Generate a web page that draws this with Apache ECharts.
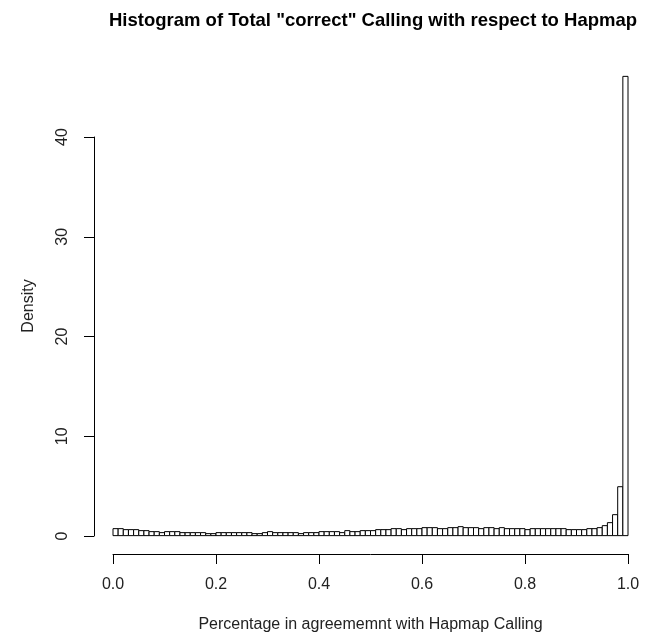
<!DOCTYPE html>
<html>
<head>
<meta charset="utf-8">
<script src="https://cdn.jsdelivr.net/npm/echarts@6/dist/echarts.min.js"></script>
<style>
html,body{margin:0;padding:0;background:#fff;}
#chart{width:648px;height:633px;}
</style>
</head>
<body>
<div id="chart"></div>
<script>
// Histogram bin width (breaks every 0.01 from 0 to 1)
const binWidth = 0.01;
// Density of each bin
const densities = [
  0.7,0.7,0.6,0.6,0.6,0.5,0.5,0.4,0.4,0.3,
  0.4,0.4,0.4,0.3,0.3,0.3,0.3,0.3,0.2,0.2,
  0.3,0.3,0.3,0.3,0.3,0.3,0.3,0.2,0.2,0.3,
  0.4,0.3,0.3,0.3,0.3,0.3,0.2,0.3,0.3,0.3,
  0.4,0.4,0.4,0.4,0.3,0.5,0.4,0.4,0.5,0.5,
  0.5,0.6,0.6,0.6,0.7,0.7,0.6,0.7,0.7,0.7,
  0.8,0.8,0.8,0.7,0.7,0.8,0.8,0.9,0.8,0.8,
  0.8,0.7,0.8,0.8,0.7,0.8,0.7,0.7,0.7,0.7,
  0.6,0.7,0.7,0.7,0.7,0.7,0.7,0.7,0.6,0.6,
  0.6,0.6,0.7,0.7,0.8,1.0,1.3,2.1,4.9,46
];
const xTicks = [0, 0.2, 0.4, 0.6, 0.8, 1.0];
const yTicks = [0, 10, 20, 30, 40];
const titleText = 'Histogram of Total "correct" Calling with respect to Hapmap';
const xName = 'Percentage in agreememnt with Hapmap Calling';
const yName = 'Density';

const barData = densities.map((d, i) => [i * binWidth, (i + 1) * binWidth, d]);

const font = '"Liberation Sans", Arial, Helvetica, sans-serif';
const chart = echarts.init(document.getElementById('chart'), null, {renderer: 'canvas'});
chart.setOption({
  animation: false,
  backgroundColor: '#fff',
  title: {
    text: titleText,
    left: 368,
    top: 6,
    textAlign: 'center',
    textStyle: {fontFamily: font, fontSize: 18.5, fontWeight: 'bold', color: '#000'}
  },
  grid: [
    {left: 113, right: 20, top: 58, bottom: 79, containLabel: false, outerBoundsMode: 'none'},
    {left: 94, width: 1, top: 137, bottom: 97, containLabel: false, outerBoundsMode: 'none'}
  ],
  xAxis: [
    {
      gridIndex: 0, type: 'value', min: 0, max: 1, interval: 0.2,
      position: 'bottom',
      axisLine: {show: true, onZero: false, lineStyle: {color: '#000', width: 1}},
      axisTick: {show: true, inside: false, length: 10, lineStyle: {color: '#000'}},
      axisLabel: {show: true, margin: 23, fontFamily: font, fontSize: 16, color: '#222',
        formatter: v => xTicks.some(t => Math.abs(t - v) < 1e-9) ? v.toFixed(1) : ''},
      splitLine: {show: false},
      name: xName, nameLocation: 'middle', nameGap: 63,
      nameTextStyle: {fontFamily: font, fontSize: 16, color: '#222'}
    },
    {
      gridIndex: 1, type: 'value', min: 0, max: 1, show: false
    }
  ],
  yAxis: [
    {
      gridIndex: 0, type: 'value', min: -1.84, max: 47.84,
      axisLine: {show: false}, axisTick: {show: false}, axisLabel: {show: false},
      splitLine: {show: false},
      name: yName, nameLocation: 'middle', nameGap: 76,
      nameTextStyle: {fontFamily: font, fontSize: 16, color: '#222'}
    },
    {
      gridIndex: 1, type: 'value', min: 0, max: 40, interval: 10,
      position: 'left',
      axisLine: {show: true, lineStyle: {color: '#000', width: 1}},
      axisTick: {show: true, inside: false, length: 10, lineStyle: {color: '#000'}},
      axisLabel: {show: true, rotate: 90, margin: 23, fontFamily: font, fontSize: 16, color: '#222',
        formatter: v => yTicks.includes(v) ? String(v) : ''},
      splitLine: {show: false}
    }
  ],
  series: [{
    type: 'custom',
    xAxisIndex: 0, yAxisIndex: 0,
    data: barData,
    encode: {x: [0, 1], y: 2},
    renderItem: function (params, api) {
      const p0 = api.coord([api.value(0), api.value(2)]);
      const p1 = api.coord([api.value(1), 0]);
      return {
        type: 'rect',
        shape: {x: p0[0], y: p0[1], width: p1[0] - p0[0], height: p1[1] - p0[1]},
        style: {fill: '#fff', stroke: '#000', lineWidth: 1}
      };
    }
  }]
});
</script>
</body>
</html>
